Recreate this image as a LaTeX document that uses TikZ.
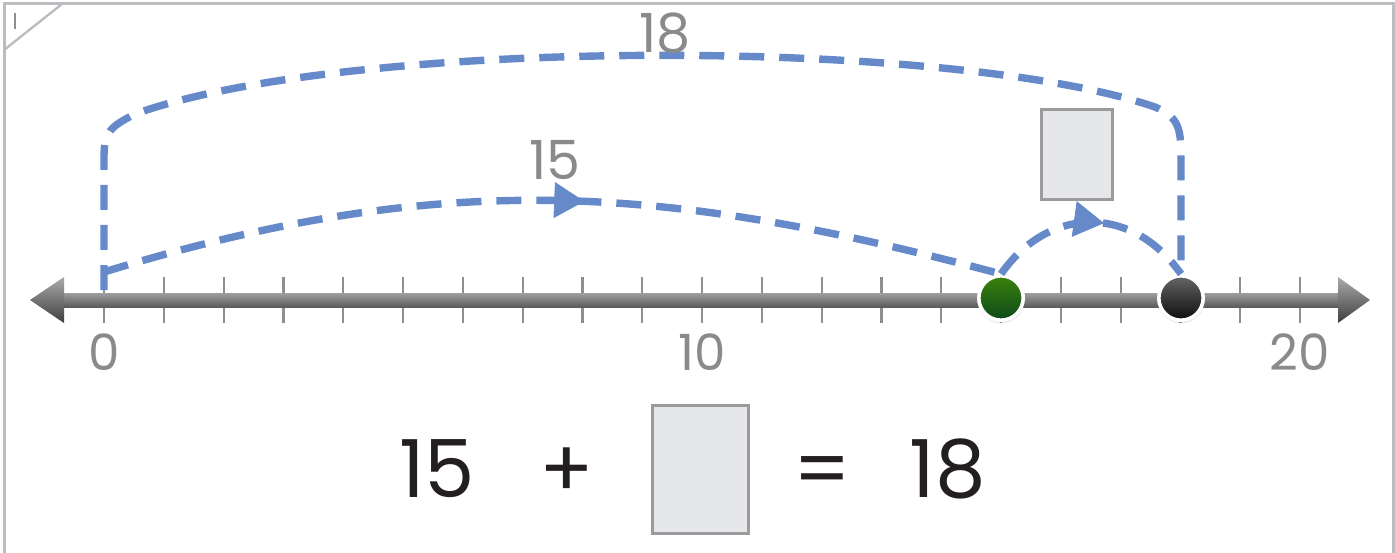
\documentclass[tikz,border=0pt]{standalone}
\usepackage{fontspec}
\setmainfont{Poppins}
\usepackage{xcolor}
\usetikzlibrary{arrows.meta, positioning, decorations.markings, shadows}
\definecolor{jumpblue}{HTML}{6689C9}
\definecolor{tickgray}{HTML}{8F8F91}
\definecolor{labelgray}{HTML}{8A8A8D}
\definecolor{framegray}{HTML}{BDBDC1}
\definecolor{boxfill}{HTML}{E6E7E9}
\definecolor{boxline}{HTML}{9B9B9D}
\definecolor{shafttop}{HTML}{9E9E9E}
\definecolor{shaftbot}{HTML}{5C5C5C}
\definecolor{headtop}{HTML}{AAAAAA}
\definecolor{headbot}{HTML}{3E3E3E}
\definecolor{greentop}{HTML}{3C820A}
\definecolor{greenbot}{HTML}{0B4A1C}
\definecolor{eqblack}{HTML}{231F20}

\begin{document}
\begin{tikzpicture}[x=0.5pt, y=0.5pt,
    jump/.style={jumpblue, line width=3.7pt, dash pattern=on 12.5pt off 7.5pt},
    midarrow/.style={postaction={decorate, decoration={markings,
        mark=at position #1 with {\arrow{Triangle[length=15pt, width=18pt, line width=0.4pt]}}}}},
    answerbox/.style={draw=boxline, fill=boxfill, line width=1.5pt, inner sep=0pt},
    dot/.style={circle, draw=white, line width=1.8pt, minimum size=22.2pt, inner sep=0pt,
        circular drop shadow={shadow xshift=0pt, shadow yshift=-0.6pt, opacity=0.35, shadow scale=1.1}},
    numlabel/.style={labelgray, font=\fontsize{25}{25}\selectfont},
    jumplabel/.style={labelgray, font=\fontsize{27}{27}\selectfont},
    eqtext/.style={eqblack, anchor=base, font=\fontsize{40}{40}\selectfont}
]
    \useasboundingbox (0,0) rectangle (1395,552);

    % Frame
    \draw[framegray, line width=1.5pt] (4,-10) -- (4,548) -- (1393,548) -- (1393,-10);
    \draw[framegray, line width=1.2pt] (4,502) -- (62,548);
    \draw[tickgray, line width=1pt] (15,523) -- (15,539);

    % Number line
    \foreach \k in {0,...,20}
        \draw[tickgray, line width=1.1pt] ({104+59.8*\k},229) -- ({104+59.8*\k},275);
    \shade[top color=shafttop, bottom color=shaftbot] (60,245) rectangle (1342,259);
    \shade[top color=headtop, bottom color=headbot] (30,252) -- (64,275) -- (64,229) -- cycle;
    \shade[top color=headtop, bottom color=headbot] (1370,252) -- (1338,275) -- (1338,229) -- cycle;

    \node[numlabel] (n0) at (104,200) {0};
    \node[numlabel] (n10) at (702,200) {10};
    \node[numlabel] (n20) at (1300,200) {20};

    % Points
    \node[dot, top color=greentop, bottom color=greenbot] (g15) at (1001,254) {};
    \node[dot, top color=black!60, bottom color=black!95] (b18) at (1181,254) {};
    \coordinate (z0) at (104,262);
    \coordinate[above=9pt of z0] (s15);

    % Jumps
    \draw[jump] (z0) -- (104,395) .. controls (104,420) and (110,425) .. (135,438)
        .. controls (350,515) and (950,515) .. (1155,445)
        .. controls (1178,435) and (1181,425) .. (1181,395) -- (b18.north);
    \draw[jump, midarrow=0.535] (s15) to[out=17, in=165] (g15.north);
    \draw[jump, midarrow=0.56] (g15.north) to[out=55, in=125, looseness=1.2] (b18.north);

    \node[jumplabel] (l15) at (555,392) {15};
    \node[jumplabel] (l18) at (665,519) {18};
    \node[answerbox, minimum width=35.5pt, minimum height=45pt] (ans) at (1077,397) {};

    % Equation
    \node[eqtext] (e15) at (437,55) {15};
    \node[eqtext] (eplus) at (567,55) {+};
    \node[answerbox, minimum width=48pt, minimum height=64pt] (ebox) at (700,83) {};
    \node[eqtext] (eeq) at (822,55) {=};
    \node[eqtext] (e18) at (948,55) {18};
\end{tikzpicture}
\end{document}
